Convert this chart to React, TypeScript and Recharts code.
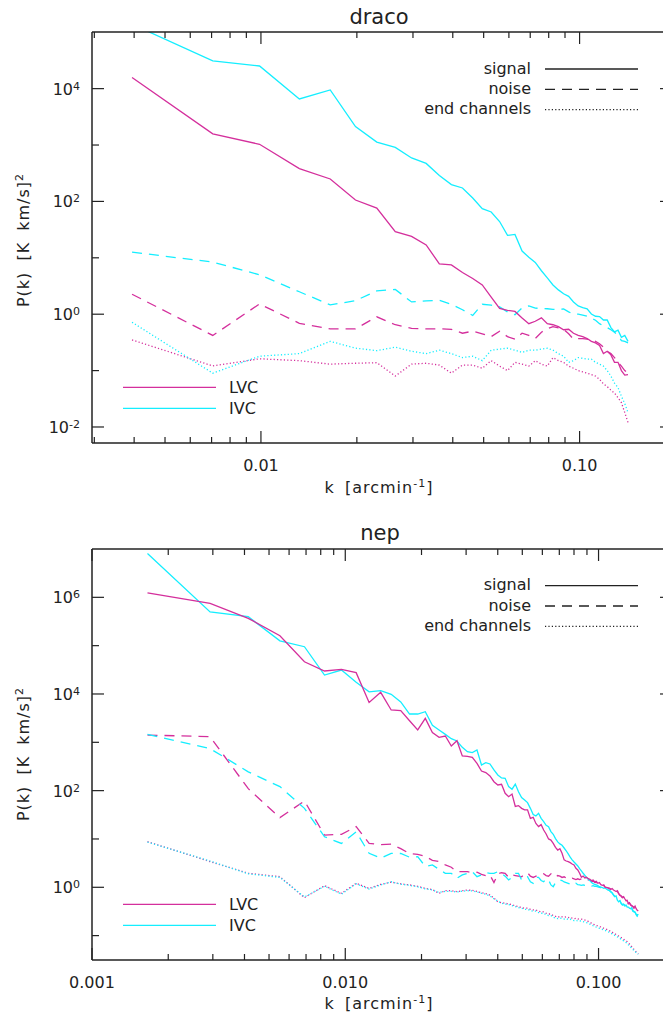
import { LineChart, Line, XAxis, YAxis } from 'recharts'

const MAGENTA = '#d42f9c'
const CYAN = '#14eeff'
const INK = '#222'
const FONT = "'DejaVu Sans', Verdana, sans-serif"

// ---- draco ----
const DRACO_K = [
  0.00394, 0.00706, 0.0099, 0.0132, 0.0165, 0.0198, 0.0231, 0.0264, 0.0297, 0.033,
  0.0363, 0.0396, 0.0429, 0.0462, 0.0495, 0.0528, 0.0561, 0.0594, 0.0627, 0.066,
  0.0693, 0.0726, 0.0759, 0.0792, 0.0825, 0.0858, 0.0891, 0.0924, 0.0957, 0.099,
  0.1023, 0.1056, 0.1089, 0.1122, 0.1155, 0.1188, 0.1221, 0.1254, 0.1287, 0.132,
  0.1353, 0.1386, 0.1419,
]
const DRACO_LVC_SIGNAL = [
  15700, 1575, 1030, 382, 250, 106, 76, 29.2, 23.9, 16.9,
  7.8, 7.5, 5.5, 4.3, 3.3, 2.0, 1.27, 1.17, 1.12, 0.86,
  0.68, 0.75, 0.86, 0.68, 0.65, 0.6, 0.53, 0.54, 0.46, 0.42,
  0.4, 0.37, 0.33, 0.31, 0.28, 0.2, 0.22, 0.19, 0.14, 0.14,
  0.1, 0.083, 0.085,
]
const DRACO_IVC_SIGNAL = [
  139000, 31000, 25200, 6560, 9480, 2120, 1130, 906, 590, 472,
  289, 199, 173, 115, 74.5, 65, 44, 25, 26, 13.2,
  10.2, 8.3, 5.9, 4.4, 3.3, 2.7, 2.3, 2.07, 1.65, 1.4,
  1.31, 1.24, 1.01, 0.92, 0.91, 0.79, 0.79, 0.58, 0.485, 0.52,
  0.39, 0.42, 0.33,
]
const DRACO_LVC_NOISE = [
  2.26, 0.42, 1.52, 0.69, 0.55, 0.55, 0.9, 0.65, 0.56, 0.55,
  0.55, 0.54, 0.46, 0.5, 0.45, 0.4, 0.5, 0.4, 0.36, 0.46,
  0.42, 0.37, 0.48, 0.55, 0.6, 0.57, 0.54, 0.45, 0.36, 0.37,
  0.37, 0.36, 0.35, 0.33, 0.3, 0.26, 0.22, 0.2, 0.17, 0.14,
  0.12, 0.1, 0.09,
]
const DRACO_IVC_NOISE = [
  12.6, 8.4, 5.0, 2.5, 1.46, 1.74, 2.6, 2.75, 1.65, 1.73,
  1.76, 1.5, 1.2, 0.95, 1.5, 1.45, 1.35, 1.1, 0.98, 1.3,
  1.4, 1.28, 1.27, 1.25, 1.22, 1.2, 1.24, 1.1, 1.0, 1.0,
  0.96, 0.92, 0.85, 0.78, 0.68, 0.62, 0.58, 0.53, 0.48, 0.42,
  0.34, 0.33, 0.31,
]
const DRACO_LVC_END = [
  0.35, 0.121, 0.162, 0.15, 0.13, 0.135, 0.138, 0.08, 0.13, 0.135,
  0.125, 0.09, 0.125, 0.125, 0.11, 0.15, 0.12, 0.1, 0.14, 0.13,
  0.12, 0.15, 0.13, 0.12, 0.17, 0.15, 0.14, 0.12, 0.11, 0.1,
  0.095, 0.09, 0.085, 0.08, 0.07, 0.058, 0.052, 0.045, 0.04, 0.033,
  0.027, 0.018, 0.012,
]
const DRACO_IVC_END = [
  0.72, 0.09, 0.18, 0.2, 0.33, 0.25, 0.226, 0.26, 0.22, 0.2,
  0.23, 0.2, 0.17, 0.18, 0.15, 0.23, 0.24, 0.25, 0.23, 0.21,
  0.23, 0.23, 0.24, 0.25, 0.23, 0.2, 0.18, 0.14, 0.15, 0.17,
  0.165, 0.16, 0.16, 0.14, 0.13, 0.12, 0.1, 0.08, 0.06, 0.05,
  0.035, 0.026, 0.018,
]

// ---- nep ----
const NEP_K = [
  0.001656, 0.002926, 0.00414, 0.00552, 0.0069, 0.00828, 0.00966, 0.01104, 0.01242, 0.0138,
  0.01518, 0.01656, 0.01794, 0.01932, 0.0207, 0.02208, 0.02346, 0.02484, 0.02622, 0.0276,
  0.02898, 0.03036, 0.03174, 0.03312, 0.0345, 0.03588, 0.03726, 0.03864, 0.04002, 0.0414,
  0.04278, 0.04416, 0.04554, 0.04692, 0.0483, 0.04968, 0.05106, 0.05244, 0.05382, 0.0552,
  0.05658, 0.05796, 0.05934, 0.06072, 0.0621, 0.06348, 0.06486, 0.06624, 0.06762, 0.069,
  0.07038, 0.07176, 0.07314, 0.07452, 0.0759, 0.07728, 0.07866, 0.08004, 0.08142, 0.0828,
  0.08418, 0.08556, 0.08694, 0.08832, 0.0897, 0.09108, 0.09246, 0.09384, 0.09522, 0.0966,
  0.09798, 0.09936, 0.10074, 0.10212, 0.1035, 0.10488, 0.10626, 0.10764, 0.10902, 0.1104,
  0.11178, 0.11316, 0.11454, 0.11592, 0.1173, 0.11868, 0.12006, 0.12144, 0.12282, 0.1242,
  0.12558, 0.12696, 0.12834, 0.12972, 0.1311, 0.13248, 0.13386, 0.13524, 0.13662, 0.138,
  0.13938, 0.14076, 0.14214, 0.14352,
]
const NEP_LVC_SIGNAL = [
  1240000, 750000, 368000, 160000, 46500, 29900, 32400, 27600, 6700, 10800,
  4670, 4520, 2800, 1800, 3130, 1585, 1270, 1350, 840, 1080,
  521, 513, 490, 367, 255, 236, 201, 153, 131, 135,
  88, 75, 85, 47, 49, 43, 40, 40, 26.7, 28,
  21, 18, 19.8, 15.3, 12.7, 10, 9.5, 8.1, 6.7, 5.9,
  6.3, 5.05, 3.7, 3.5, 3.4, 3.24, 3.04, 2.9, 2.47, 2.28,
  1.95, 1.61, 1.71, 1.56, 1.61, 1.51, 1.46, 1.37, 1.42, 1.29,
  1.33, 1.21, 1.25, 1.13, 1.1, 1.12, 1.0, 1.0, 0.97, 0.96,
  0.91, 0.94, 0.88, 0.85, 0.82, 0.85, 0.75, 0.69, 0.66, 0.62,
  0.64, 0.58, 0.53, 0.54, 0.46, 0.48, 0.435, 0.42, 0.4, 0.38,
  0.41, 0.36, 0.335, 0.325,
]
const NEP_IVC_SIGNAL = [
  8100000, 500000, 397000, 126000, 95000, 24700, 31300, 17400, 11100, 11700,
  9840, 6830, 3850, 3850, 4300, 2245, 1800, 1460, 1190, 1065,
  787, 641, 611, 693, 340, 380, 356, 268, 211, 183,
  180, 121, 107, 137, 95, 72, 64, 56.5, 43, 32,
  30, 34, 26.7, 22.8, 19.2, 18, 14.2, 12.5, 10.2, 8.7,
  7.9, 7.4, 6.5, 5.7, 4.9, 4.2, 3.7, 3.34, 3.04, 2.76,
  2.43, 2.18, 1.95, 1.77, 1.58, 1.46, 1.37, 1.25, 1.19, 1.15,
  1.12, 1.08, 1.03, 1.01, 0.99, 0.95, 0.97, 0.91, 0.88, 0.86,
  0.82, 0.77, 0.69, 0.64, 0.66, 0.54, 0.5, 0.53, 0.46, 0.43,
  0.45, 0.42, 0.43, 0.39, 0.39, 0.37, 0.36, 0.38, 0.33, 0.32,
  0.31, 0.28, 0.26, 0.28,
]
const NEP_LVC_NOISE = [
  1415, 1305, 110, 27.6, 61, 12, 12.5, 18, 8.1, 7.6,
  7.8, 6.3, 5.0, 4.8, 4.4, 3.6, 3.4, 2.9, 2.6, 2.1,
  2.1, 2.1, 2.0, 2.05, 1.85, 1.75, 1.8, 1.25, 1.9, 2.0,
  1.95, 1.6, 1.8, 1.75, 1.7, 1.65, 1.85, 2.0, 1.7, 1.6,
  1.7, 1.7, 1.75, 1.9, 1.75, 1.7, 1.9, 1.7, 1.6, 1.75,
  1.7, 1.6, 1.65, 1.55, 1.6, 1.5, 1.55, 1.5, 1.45, 1.5,
  1.45, 1.5, 1.5, 1.45, 1.5, 1.42, 1.4, 1.33, 1.35, 1.27,
  1.25, 1.2, 1.2, 1.12, 1.08, 1.1, 1.0, 0.98, 0.97, 0.93,
  0.9, 0.92, 0.87, 0.83, 0.8, 0.82, 0.74, 0.68, 0.66, 0.61,
  0.62, 0.57, 0.53, 0.52, 0.46, 0.47, 0.43, 0.41, 0.4, 0.37,
  0.39, 0.35, 0.33, 0.32,
]
const NEP_IVC_NOISE = [
  1460, 740, 245, 121, 43, 11.1, 8.1, 14, 5.05, 4.0,
  5.05, 5.0, 4.2, 4.3, 2.7, 2.9, 2.35, 1.95, 1.95, 1.54,
  1.8, 1.95, 2.1, 1.66, 1.8, 2.0, 1.95, 1.95, 2.1, 1.95,
  1.7, 1.42, 1.6, 1.95, 1.95, 1.42, 1.6, 1.66, 1.3, 1.21,
  1.6, 1.6, 1.38, 1.3, 1.5, 1.42, 1.12, 1.03, 1.25, 1.38,
  1.42, 1.38, 1.29, 1.25, 1.21, 1.17, 1.25, 1.17, 1.21, 1.13,
  1.12, 1.1, 1.12, 1.1, 1.12, 1.08, 1.1, 1.06, 1.08, 1.05,
  1.04, 1.02, 1.0, 0.98, 0.96, 0.94, 0.93, 0.9, 0.87, 0.86,
  0.8, 0.76, 0.7, 0.65, 0.64, 0.56, 0.52, 0.52, 0.47, 0.44,
  0.44, 0.41, 0.42, 0.38, 0.38, 0.36, 0.35, 0.36, 0.32, 0.31,
  0.3, 0.27, 0.25, 0.26,
]
const NEP_LVC_END = [
  8.8, 3.4, 1.95, 1.66, 0.61, 1.08, 0.75, 1.21, 0.95, 1.15,
  1.28, 1.18, 1.12, 1.05, 0.95, 0.9, 0.75, 0.85, 0.85, 0.81,
  0.85, 0.88, 0.86, 0.82, 0.77, 0.74, 0.69, 0.6, 0.5, 0.48,
  0.47, 0.45, 0.44, 0.41, 0.4, 0.38, 0.37, 0.37, 0.35, 0.34,
  0.34, 0.32, 0.31, 0.31, 0.29, 0.28, 0.28, 0.26, 0.25, 0.24,
  0.25, 0.245, 0.24, 0.245, 0.235, 0.24, 0.23, 0.225, 0.228, 0.22,
  0.222, 0.22, 0.213, 0.21, 0.2, 0.197, 0.186, 0.181, 0.172, 0.169,
  0.163, 0.158, 0.153, 0.151, 0.146, 0.142, 0.139, 0.135, 0.13, 0.127,
  0.121, 0.118, 0.112, 0.109, 0.105, 0.102, 0.098, 0.095, 0.091, 0.087,
  0.084, 0.08, 0.078, 0.075, 0.07, 0.067, 0.062, 0.059, 0.055, 0.052,
  0.049, 0.046, 0.044, 0.042,
]
const NEP_IVC_END = [
  8.6, 3.5, 1.9, 1.6, 0.63, 1.05, 0.72, 1.18, 0.92, 1.12,
  1.3, 1.16, 1.1, 1.02, 0.93, 0.88, 0.78, 0.83, 0.82, 0.8,
  0.83, 0.85, 0.84, 0.8, 0.75, 0.72, 0.66, 0.58, 0.52, 0.47,
  0.45, 0.44, 0.42, 0.4, 0.38, 0.37, 0.35, 0.35, 0.33, 0.32,
  0.32, 0.3, 0.29, 0.29, 0.27, 0.26, 0.26, 0.24, 0.23, 0.225,
  0.23, 0.225, 0.22, 0.225, 0.215, 0.22, 0.21, 0.205, 0.208, 0.2,
  0.203, 0.2, 0.195, 0.19, 0.185, 0.18, 0.172, 0.167, 0.16, 0.156,
  0.15, 0.146, 0.142, 0.139, 0.135, 0.131, 0.128, 0.124, 0.12, 0.117,
  0.112, 0.109, 0.104, 0.101, 0.097, 0.094, 0.091, 0.088, 0.084, 0.081,
  0.078, 0.075, 0.072, 0.069, 0.065, 0.062, 0.058, 0.055, 0.052, 0.049,
  0.047, 0.045, 0.043, 0.041,
]

// ---- ticks ----
const DRACO_X_TICKS = [
  0.003, 0.004, 0.005, 0.006, 0.007, 0.008, 0.009, 0.01,
  0.02, 0.03, 0.04, 0.05, 0.06, 0.07, 0.08, 0.09, 0.1,
]
const DRACO_X_LABELS: Record<string, string> = { '0.01': '0.01', '0.1': '0.10' }
const DRACO_Y_TICKS = [0.01, 0.1, 1, 10, 100, 1000, 10000]

const NEP_X_TICKS = [
  0.001, 0.002, 0.003, 0.004, 0.005, 0.006, 0.007, 0.008, 0.009, 0.01,
  0.02, 0.03, 0.04, 0.05, 0.06, 0.07, 0.08, 0.09, 0.1,
]
const NEP_X_LABELS: Record<string, string> = { '0.001': '0.001', '0.01': '0.010', '0.1': '0.100' }
const NEP_Y_TICKS = [0.1, 1, 10, 100, 1000, 10000, 100000, 1000000]

const rows = (
  k: number[], ls: number[], ln: number[], le: number[], is: number[], inn: number[], ie: number[],
) =>
  k.map((kk, i) => ({
    k: kk,
    lvcSignal: ls[i], lvcNoise: ln[i], lvcEnd: le[i],
    ivcSignal: is[i], ivcNoise: inn[i], ivcEnd: ie[i],
  }))

const dracoData = rows(DRACO_K, DRACO_LVC_SIGNAL, DRACO_LVC_NOISE, DRACO_LVC_END,
  DRACO_IVC_SIGNAL, DRACO_IVC_NOISE, DRACO_IVC_END)
const nepData = rows(NEP_K, NEP_LVC_SIGNAL, NEP_LVC_NOISE, NEP_LVC_END,
  NEP_IVC_SIGNAL, NEP_IVC_NOISE, NEP_IVC_END)

const SERIES = [
  { key: 'lvcEnd', color: MAGENTA, dash: '1.2 2.2' },
  { key: 'ivcEnd', color: CYAN, dash: '1.2 2.2' },
  { key: 'lvcNoise', color: MAGENTA, dash: '10 7' },
  { key: 'ivcNoise', color: CYAN, dash: '10 7' },
  { key: 'ivcSignal', color: CYAN, dash: undefined },
  { key: 'lvcSignal', color: MAGENTA, dash: undefined },
]

const isDecade = (v: number) => {
  const l = Math.log10(v)
  return Math.abs(l - Math.round(l)) < 1e-6
}

function XTick(props: any) {
  const { x, y, payload, side, labels } = props
  const v = payload.value
  const len = isDecade(v) ? 12 : 6
  const label = labels ? labels[String(v)] : undefined
  return (
    <g>
      <line x1={x} y1={y} x2={x} y2={side === 'top' ? y + len : y - len} stroke={INK} strokeWidth={1.2} />
      {label && (
        <text x={x} y={y + 27.5} textAnchor="middle" fontSize={16} fontFamily={FONT} fill={INK}>
          {label}
        </text>
      )}
    </g>
  )
}

function YTick(props: any) {
  const { x, y, payload, side } = props
  const e = Math.round(Math.log10(payload.value))
  const major = e % 2 === 0
  const len = major ? 12 : 7
  return (
    <g>
      <line x1={x} y1={y} x2={side === 'left' ? x + len : x - len} y2={y} stroke={INK} strokeWidth={1.2} />
      {side === 'left' && major && (
        <text x={x - 12} y={y + 6} textAnchor="end" fontSize={16} fontFamily={FONT} fill={INK}>
          10
          <tspan dy={-5} fontSize={11}>{e}</tspan>
        </text>
      )}
    </g>
  )
}

const axisLine = { stroke: INK, strokeWidth: 1.5 }

function Panel(p: {
  data: any[]; height: number; xAxisHeight: number
  xDomain: [number, number]; yDomain: [number, number]
  xTicks: number[]; xLabels: Record<string, string>; yTicks: number[]
}) {
  return (
    <LineChart width={680} height={p.height} data={p.data} margin={{ top: 31, right: 7, bottom: 0, left: 0 }}>
      <XAxis xAxisId="b" dataKey="k" type="number" scale="log" domain={p.xDomain} allowDataOverflow
        ticks={p.xTicks} interval={0} tickSize={0} tickMargin={0} tickLine={false} axisLine={axisLine}
        height={p.xAxisHeight} tick={(t: any) => <XTick {...t} side="bottom" labels={p.xLabels} />} />
      <XAxis xAxisId="t" orientation="top" dataKey="k" type="number" scale="log" domain={p.xDomain}
        allowDataOverflow ticks={p.xTicks} interval={0} tickSize={0} tickMargin={0} tickLine={false}
        axisLine={axisLine} height={1} tick={(t: any) => <XTick {...t} side="top" />} />
      <YAxis yAxisId="l" type="number" scale="log" domain={p.yDomain} allowDataOverflow ticks={p.yTicks}
        interval={0} tickSize={0} tickMargin={0} tickLine={false} axisLine={axisLine} width={92}
        tick={(t: any) => <YTick {...t} side="left" />} />
      <YAxis yAxisId="r" orientation="right" type="number" scale="log" domain={p.yDomain} allowDataOverflow
        ticks={p.yTicks} interval={0} tickSize={0} tickMargin={0} tickLine={false} axisLine={axisLine}
        width={1} tick={(t: any) => <YTick {...t} side="right" />} />
      {SERIES.map((s) => (
        <Line key={s.key} xAxisId="b" yAxisId="l" dataKey={s.key} type="linear" stroke={s.color}
          strokeWidth={1.3} strokeDasharray={s.dash} dot={false} activeDot={false}
          isAnimationActive={false} />
      ))}
    </LineChart>
  )
}

const txt = { fontFamily: FONT, fill: INK }

function LegendBlock({ top, bottom }: { top: number; bottom: number }) {
  const rowsR = [
    { label: 'signal', dash: undefined },
    { label: 'noise', dash: '10 7' },
    { label: 'end channels', dash: '1.2 2.2' },
  ]
  return (
    <g>
      {rowsR.map((r, i) => (
        <g key={r.label}>
          <text x={531} y={top + i * 20.3 + 4.5} textAnchor="end" fontSize={16} {...txt}>{r.label}</text>
          <line x1={545} x2={638} y1={top + i * 20.3} y2={top + i * 20.3} stroke={INK}
            strokeWidth={1.3} strokeDasharray={r.dash} />
        </g>
      ))}
      {[{ label: 'LVC', color: MAGENTA }, { label: 'IVC', color: CYAN }].map((r, i) => (
        <g key={r.label}>
          <line x1={123} x2={216} y1={bottom + i * 21} y2={bottom + i * 21} stroke={r.color} strokeWidth={1.3} />
          <text x={229} y={bottom + i * 21 + 6} fontSize={16} {...txt}>{r.label}</text>
        </g>
      ))}
    </g>
  )
}

function AxisTitles({ xBase, yMid }: { xBase: number; yMid: number }) {
  return (
    <g>
      <text x={379} y={xBase} textAnchor="middle" fontSize={16} letterSpacing={1} wordSpacing={4} {...txt}>
        k [arcmin<tspan dy={-6} fontSize={11}>-1</tspan><tspan dy={6}>]</tspan>
      </text>
      <text x={29} y={yMid} transform={`rotate(-90 29 ${yMid})`} textAnchor="middle" fontSize={16}
        letterSpacing={1} wordSpacing={5} {...txt}>
        P(k) [K km/s]<tspan dy={-6} fontSize={11}>2</tspan>
      </text>
    </g>
  )
}

export default function App() {
  return (
    <div style={{ position: 'absolute', left: 0, top: 0, width: 663, height: 1019, overflow: 'hidden', background: '#fff' }}>
      <div style={{ position: 'absolute', left: 0, top: 0 }}>
        <Panel data={dracoData} height={510} xAxisHeight={67} xDomain={[0.00295, 0.195]}
          yDomain={[0.0052, 101000]} xTicks={DRACO_X_TICKS} xLabels={DRACO_X_LABELS} yTicks={DRACO_Y_TICKS} />
      </div>
      <div style={{ position: 'absolute', left: 0, top: 517 }}>
        <Panel data={nepData} height={502} xAxisHeight={59} xDomain={[0.001, 0.195]}
          yDomain={[0.0313, 10000000]} xTicks={NEP_X_TICKS} xLabels={NEP_X_LABELS} yTicks={NEP_Y_TICKS} />
      </div>
      <svg width={663} height={1019} style={{ position: 'absolute', left: 0, top: 0, pointerEvents: 'none' }}>
        <text x={379} y={23.5} textAnchor="middle" fontSize={21} {...txt}>draco</text>
        <text x={380} y={539.5} textAnchor="middle" fontSize={21} {...txt}>nep</text>
        <LegendBlock top={69} bottom={387.3} />
        <LegendBlock top={585.7} bottom={904.3} />
        <AxisTitles xBase={493} yMid={240} />
        <AxisTitles xBase={1009} yMid={754} />
      </svg>
    </div>
  )
}
